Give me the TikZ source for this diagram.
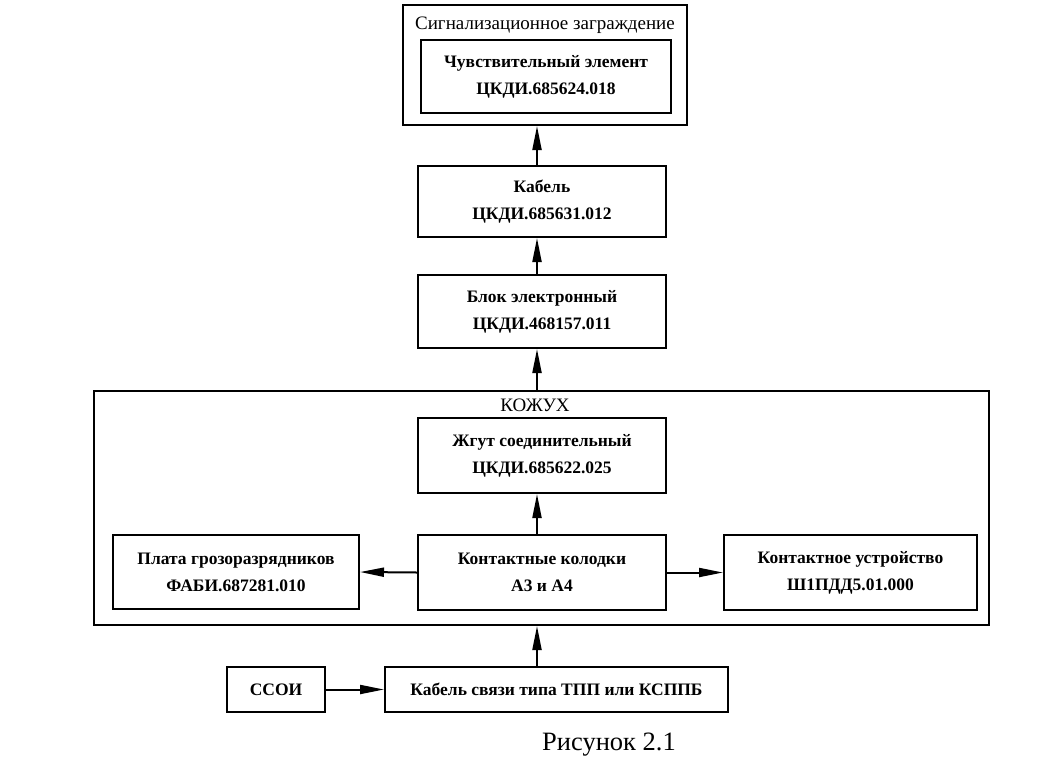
\documentclass[tikz,border=0pt]{standalone}
\usepackage{fontspec}
\setmainfont{Liberation Serif}
\usetikzlibrary{arrows.meta}
\tikzset{
  blk/.style={draw, line width=2pt, inner sep=0pt, align=center,
    font=\fontsize{17.5}{27}\selectfont\bfseries},
  lbl/.style={inner sep=0pt, font=\fontsize{19}{27}\selectfont},
  frame/.style={draw, line width=2pt, inner sep=0pt},
  arr/.style={line width=2pt, -{Triangle[length=24pt,width=9pt]}},
}
\newcommand{\bx}[6]{% name, l, t, r, b, text
  \node[blk, minimum width={#4-#2}, minimum height={#5-#3}] (#1) at ({(#2+#4)/2},{(#3+#5)/2}) {#6};}
\begin{document}
\begin{tikzpicture}[x=1pt,y=-1pt]
\useasboundingbox (0,0) rectangle (1056,768);
% outer boxes
\node[frame, minimum width=284, minimum height=120] (signal) at (545,65) {};
\node[lbl] (signallbl) at (545,25) {Сигнализационное заграждение};
\node[frame, minimum width=895, minimum height=234] (kozh) at (541.5,508) {};
\node[lbl] (kozhlbl) at (535,405) {КОЖУХ};
% blocks
\bx{chuv}{421}{40}{671}{113}{Чувствительный элемент\\ЦКДИ.685624.018}
\bx{kabel}{418}{166}{666}{237}{Кабель\\ЦКДИ.685631.012}
\bx{blok}{418}{275}{666}{348}{Блок электронный\\ЦКДИ.468157.011}
\bx{zhgut}{418}{418}{666}{493}{Жгут соединительный\\ЦКДИ.685622.025}
\bx{kolod}{418}{535}{666}{610}{Контактные колодки\\А3 и А4}
\bx{plata}{113}{535}{359}{609}{Плата грозоразрядников\\ФАБИ.687281.010}
\bx{ustr}{724}{535}{977}{610}{Контактное устройство\\Ш1ПДД5.01.000}
\bx{ssoi}{227}{667}{325}{712}{ССОИ}
\bx{svyaz}{385}{667}{728}{712}{Кабель связи типа ТПП или КСППБ}
\coordinate (ax) at (537,0);
% connectors
\draw[arr] (ax |- kabel.north) -- (ax |- signal.south);
\draw[arr] (ax |- blok.north) -- (ax |- kabel.south);
\draw[arr] (ax |- kozh.north) -- (ax |- blok.south);
\draw[arr] (ax |- kolod.north) -- (ax |- zhgut.south);
\draw[arr] (kolod.west) -- (plata.east);
\draw[arr] (kolod.east) -- (ustr.west);
\draw[arr] (ax |- svyaz.north) -- (ax |- kozh.south);
\draw[arr] (ssoi.east) -- (svyaz.west);
\node[inner sep=0pt, font=\fontsize{26.5}{30}\selectfont] (cap) at (609,745) {Рисунок 2.1};
\end{tikzpicture}
\end{document}
